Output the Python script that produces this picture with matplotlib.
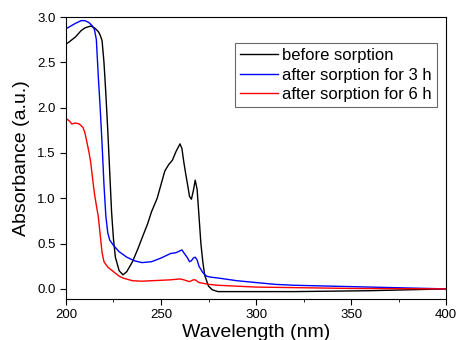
import numpy as np
import matplotlib.pyplot as plt
from matplotlib.ticker import MultipleLocator

plt.rcParams['font.family'] = ['Liberation Sans', 'DejaVu Sans']

# Absorbance spectra
wl_before = [200, 202, 205, 208, 210, 213, 215, 217, 218, 219, 220, 221, 222, 223, 224, 225, 226, 228,
             230, 232, 235, 238, 240, 243, 245, 248, 250, 252, 254, 256, 258, 260, 261, 262, 263, 264,
             265, 266, 267, 268, 269, 270, 271, 272, 273, 275, 277, 280, 290, 300, 320, 340, 360, 380, 400]
abs_before = [2.70, 2.73, 2.78, 2.85, 2.88, 2.90, 2.88, 2.84, 2.80, 2.74, 2.50, 2.15, 1.75, 1.30, 0.85, 0.55,
              0.35, 0.20, 0.155, 0.19, 0.30, 0.45, 0.56, 0.72, 0.85, 1.00, 1.15, 1.30, 1.37, 1.42, 1.52,
              1.60, 1.55, 1.40, 1.27, 1.15, 1.02, 0.99, 1.08, 1.20, 1.10, 0.80, 0.50, 0.30, 0.15, 0.03,
              -0.01, -0.03, -0.03, -0.03, -0.03, -0.025, -0.02, -0.01, 0.0]

wl_3h = [200, 205, 208, 210, 212, 214, 215, 216, 217, 218, 219, 220, 221, 222, 223, 225, 228, 232, 236,
         240, 245, 250, 255, 258, 260, 261, 262, 264, 265, 266, 267, 268, 269, 270, 272, 274, 276, 280,
         290, 300, 310, 320, 340, 360, 380, 400]
abs_3h = [2.87, 2.93, 2.96, 2.96, 2.94, 2.90, 2.86, 2.75, 2.35, 2.00, 1.60, 1.15, 0.80, 0.62, 0.54, 0.48,
          0.41, 0.35, 0.31, 0.29, 0.30, 0.34, 0.39, 0.40, 0.42, 0.43, 0.40, 0.34, 0.30, 0.31, 0.34, 0.35,
          0.32, 0.25, 0.18, 0.14, 0.13, 0.12, 0.09, 0.07, 0.05, 0.04, 0.03, 0.02, 0.01, 0.0]

wl_6h = [200, 202, 203, 205, 207, 209, 210, 211, 212, 213, 214, 215, 216, 217, 218, 219, 220, 222, 225,
         228, 230, 235, 240, 245, 250, 255, 260, 262, 265, 267, 268, 270, 275, 280, 300, 350, 400]
abs_6h = [1.88, 1.85, 1.82, 1.83, 1.82, 1.78, 1.72, 1.62, 1.52, 1.40, 1.22, 1.05, 0.92, 0.80, 0.60, 0.40,
          0.30, 0.24, 0.19, 0.14, 0.12, 0.09, 0.085, 0.09, 0.095, 0.10, 0.11, 0.10, 0.08, 0.10, 0.10,
          0.07, 0.05, 0.04, 0.02, 0.005, 0.0]

fig = plt.figure(figsize=(4.58, 3.40), dpi=100)
ax = fig.add_axes([0.144, 0.121, 0.830, 0.829])

ax.plot(wl_before, abs_before, color='black', lw=1.0, label='before sorption')
ax.plot(wl_3h, abs_3h, color='#0000ff', lw=1.0, label='after sorption for 3 h')
ax.plot(wl_6h, abs_6h, color='#ff0000', lw=1.0, label='after sorption for 6 h')

ax.set_xlim(200, 400)
ax.set_ylim(-0.11, 3.0)
ax.xaxis.set_major_locator(MultipleLocator(50))
ax.xaxis.set_minor_locator(MultipleLocator(25))
ax.yaxis.set_major_locator(MultipleLocator(0.5))
ax.tick_params(axis='both', which='major', direction='out', length=4, labelsize=9.5)
ax.tick_params(axis='both', which='minor', direction='out', length=2.5)
ax.tick_params(top=False, right=False)

ax.set_xlabel('Wavelength (nm)', fontsize=14, labelpad=2)
ax.set_ylabel('Absorbance (a.u.)', fontsize=14, labelpad=5)

leg = ax.legend(loc='upper right', bbox_to_anchor=(0.976, 0.908), fontsize=12, frameon=True,
                fancybox=False, edgecolor='#444444', handlelength=2.3, handletextpad=0.25,
                borderpad=0.3, labelspacing=0.28, borderaxespad=0)
leg.get_frame().set_linewidth(0.8)

plt.savefig('out.png', dpi=100)
